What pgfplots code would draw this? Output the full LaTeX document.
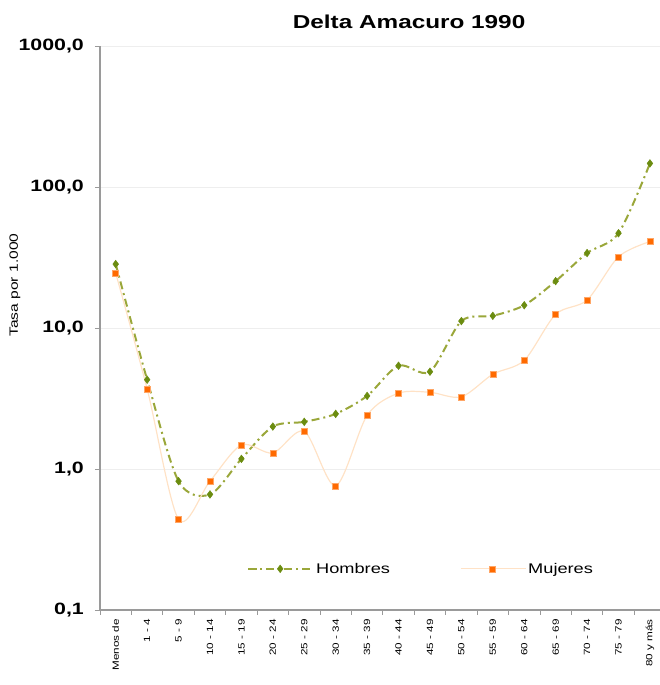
\documentclass[border=0pt]{standalone}
\usepackage{pgfplots}
\pgfplotsset{compat=1.18}
\usepackage{fontspec}
\setmainfont{Liberation Sans}[FakeStretch=1.3]
\definecolor{hline}{HTML}{9AA73A}
\definecolor{hmark}{HTML}{6B8C10}
\definecolor{mline}{HTML}{FFE2C6}
\definecolor{mmark}{HTML}{FF6A00}
\definecolor{axgray}{HTML}{9A9A9A}
\definecolor{gridc}{HTML}{EEEEEE}
\begin{document}
\begin{tikzpicture}
\path[use as bounding box] (-100pt,-75pt) rectangle (560pt,610pt);
\begin{axis}[
  scale only axis,
  width=560pt, height=564pt,
  ymode=log,
  ymin=0.1, ymax=1000,
  xmin=-0.5, xmax=17.32,
  axis x line=bottom, axis y line=left,
  axis line style={axgray, line width=1.2pt, -},
  ytick={0.1,1,10,100,1000},
  yticklabels={{0,1},{1,0},{10,0},{100,0},{1000,0}},
  yminorticks=false,
  ymajorgrids,
  major grid style={gridc, line width=0.8pt},
  tick align=outside,
  major tick length=5pt,
  minor tick length=5pt,
  tick style={axgray, line width=0.8pt},
  major x tick style={draw=none},
  xtick={0,...,17},
  minor xtick={-0.5,0.5,...,17.5},
  xticklabels={Menos de, 1 - 4, 5 - 9, 10 - 14, 15 - 19, 20 - 24, 25 - 29, 30 - 34, 35 - 39, 40 - 44, 45 - 49, 50 - 54, 55 - 59, 60 - 64, 65 - 69, 70 - 74, 75 - 79, 80 y más},
  xticklabel style={rotate=90, anchor=east, font=\fontsize{9}{10}\selectfont, inner sep=1pt, xshift=-3pt},
  yticklabel style={font=\fontsize{16.4}{18}\selectfont\bfseries, inner sep=2pt, xshift=-9pt},
  ylabel={Tasa por 1.000},
  every axis y label/.style={at={(axis description cs:-0.152,0.576)}, rotate=90, anchor=center, font=\fontsize{12}{14}\selectfont},
  title={Delta Amacuro 1990},
  every axis title/.style={at={(axis description cs:0.552,1.043)}, anchor=center, font=\fontsize{18.7}{20}\selectfont\bfseries},
  legend columns=2,
  legend style={draw=none, fill=none, at={(axis description cs:0.2625,0.073)}, anchor=west,
    font=\fontsize{14}{16}\selectfont, inner sep=0pt,
    /tikz/every even column/.append style={column sep=68pt}},
  legend image code/.code={\draw[mark repeat=2,mark phase=2,#1] plot coordinates {(0pt,0pt) (32pt,0pt) (65pt,0pt)};},
  clip=false,
]
\addplot[smooth, hline, line width=2pt, dash pattern=on 8pt off 4pt on 2pt off 4pt,
  mark=diamond*, mark size=3.8pt, mark options={solid, fill=hmark, draw=hmark, line width=0.5pt}]
  coordinates {
  (0,28.4) (1,4.3) (2,0.82) (3,0.66) (4,1.18) (5,2.0) (6,2.16) (7,2.46) (8,3.3)
  (9,5.4) (10,4.9) (11,11.2) (12,12.2) (13,14.5) (14,21.5) (15,34) (16,47) (17,147)
  };
\addlegendentry{Hombres}
\addplot[smooth, mline, line width=1.2pt,
  mark=square*, mark size=3pt, mark options={fill=mmark, draw=mmark!60!white, line width=0.5pt}]
  coordinates {
  (0,24.5) (1,3.7) (2,0.44) (3,0.82) (4,1.48) (5,1.3) (6,1.85) (7,0.76) (8,2.4)
  (9,3.45) (10,3.5) (11,3.25) (12,4.7) (13,5.9) (14,12.5) (15,15.8) (16,32) (17,41)
  };
\addlegendentry{Mujeres}
\end{axis}
\end{tikzpicture}
\end{document}
